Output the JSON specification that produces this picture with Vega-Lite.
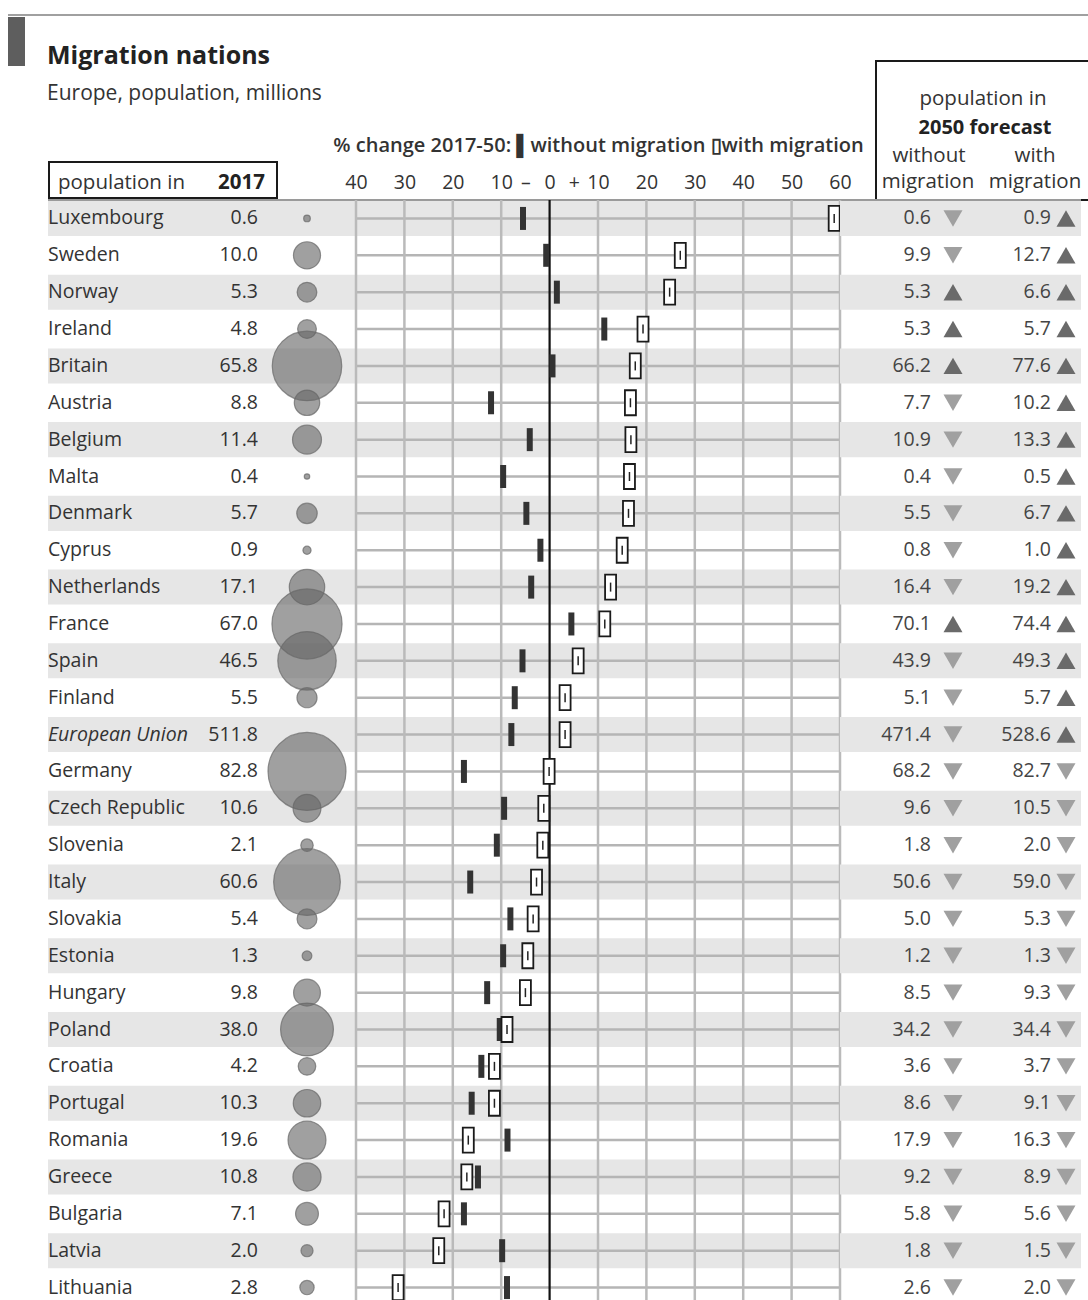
{
  "$schema": "https://vega.github.io/schema/vega-lite/v6.json",
  "padding": 0,
  "background": "white",
  "spacing": 0,
  "bounds": "flush",
  "config": {
    "view": {"stroke": null},
    "font": "Open Sans",
    "text": {"font": "Open Sans"},
    "axis": {"labelFont": "Open Sans", "titleFont": "Open Sans"}
  },
  "datasets": {
    "rows": [
      {"country": "Luxembourg", "p17": 0.6, "cwo": -5.5, "cw": 58.8, "wo": 0.6, "w": 0.9},
      {"country": "Sweden", "p17": 10.0, "cwo": -0.7, "cw": 27.0, "wo": 9.9, "w": 12.7},
      {"country": "Norway", "p17": 5.3, "cwo": 1.5, "cw": 24.8, "wo": 5.3, "w": 6.6},
      {"country": "Ireland", "p17": 4.8, "cwo": 11.3, "cw": 19.3, "wo": 5.3, "w": 5.7},
      {"country": "Britain", "p17": 65.8, "cwo": 0.6, "cw": 17.7, "wo": 66.2, "w": 77.6},
      {"country": "Austria", "p17": 8.8, "cwo": -12.1, "cw": 16.7, "wo": 7.7, "w": 10.2},
      {"country": "Belgium", "p17": 11.4, "cwo": -4.1, "cw": 16.8, "wo": 10.9, "w": 13.3},
      {"country": "Malta", "p17": 0.4, "cwo": -9.6, "cw": 16.5, "wo": 0.4, "w": 0.5},
      {"country": "Denmark", "p17": 5.7, "cwo": -4.8, "cw": 16.3, "wo": 5.5, "w": 6.7},
      {"country": "Cyprus", "p17": 0.9, "cwo": -1.9, "cw": 15.0, "wo": 0.8, "w": 1.0},
      {"country": "Netherlands", "p17": 17.1, "cwo": -3.8, "cw": 12.6, "wo": 16.4, "w": 19.2},
      {"country": "France", "p17": 67.0, "cwo": 4.5, "cw": 11.4, "wo": 70.1, "w": 74.4},
      {"country": "Spain", "p17": 46.5, "cwo": -5.6, "cw": 5.9, "wo": 43.9, "w": 49.3},
      {"country": "Finland", "p17": 5.5, "cwo": -7.2, "cw": 3.2, "wo": 5.1, "w": 5.7},
      {"country": "European Union", "p17": 511.8, "cwo": -7.9, "cw": 3.2, "wo": 471.4, "w": 528.6},
      {"country": "Germany", "p17": 82.8, "cwo": -17.7, "cw": -0.1, "wo": 68.2, "w": 82.7},
      {"country": "Czech Republic", "p17": 10.6, "cwo": -9.4, "cw": -1.2, "wo": 9.6, "w": 10.5},
      {"country": "Slovenia", "p17": 2.1, "cwo": -10.9, "cw": -1.4, "wo": 1.8, "w": 2.0},
      {"country": "Italy", "p17": 60.6, "cwo": -16.4, "cw": -2.7, "wo": 50.6, "w": 59.0},
      {"country": "Slovakia", "p17": 5.4, "cwo": -8.1, "cw": -3.4, "wo": 5.0, "w": 5.3},
      {"country": "Estonia", "p17": 1.3, "cwo": -9.6, "cw": -4.5, "wo": 1.2, "w": 1.3},
      {"country": "Hungary", "p17": 9.8, "cwo": -12.9, "cw": -5.0, "wo": 8.5, "w": 9.3},
      {"country": "Poland", "p17": 38.0, "cwo": -10.3, "cw": -8.8, "wo": 34.2, "w": 34.4},
      {"country": "Croatia", "p17": 4.2, "cwo": -14.1, "cw": -11.4, "wo": 3.6, "w": 3.7},
      {"country": "Portugal", "p17": 10.3, "cwo": -16.1, "cw": -11.4, "wo": 8.6, "w": 9.1},
      {"country": "Romania", "p17": 19.6, "cwo": -8.7, "cw": -16.8, "wo": 17.9, "w": 16.3},
      {"country": "Greece", "p17": 10.8, "cwo": -14.8, "cw": -17.1, "wo": 9.2, "w": 8.9},
      {"country": "Bulgaria", "p17": 7.1, "cwo": -17.7, "cw": -21.8, "wo": 5.8, "w": 5.6},
      {"country": "Latvia", "p17": 2.0, "cwo": -9.8, "cw": -22.9, "wo": 1.8, "w": 1.5},
      {"country": "Lithuania", "p17": 2.8, "cwo": -8.8, "cw": -31.3, "wo": 2.6, "w": 2.0}
    ]
  },
  "vconcat": [
    {
      "width": 1088,
      "height": 200,
      "data": {"values": [{}]},
      "layer": [
        {"mark": {"type": "rule", "color": "#a0a0a0", "strokeWidth": 2}, "encoding": {"x": {"value": 8}, "x2": {"value": 1088}, "y": {"value": 15}}},
        {"mark": {"type": "rect", "color": "#5e5e5e"}, "encoding": {"x": {"value": 8}, "x2": {"value": 25}, "y": {"value": 17}, "y2": {"value": 66}}},
        {"mark": {"type": "text", "text": "Migration nations", "align": "left", "baseline": "alphabetic", "fontSize": 25, "fontWeight": "bold", "color": "#222"}, "encoding": {"x": {"value": 47}, "y": {"value": 64}}},
        {"mark": {"type": "text", "text": "Europe, population, millions", "align": "left", "baseline": "alphabetic", "fontSize": 21, "color": "#333"}, "encoding": {"x": {"value": 47}, "y": {"value": 100}}},
        {"mark": {"type": "rect", "fillOpacity": 0, "stroke": "#1a1a1a", "strokeWidth": 2}, "encoding": {"x": {"value": 49}, "x2": {"value": 277}, "y": {"value": 162}, "y2": {"value": 198}}},
        {"mark": {"type": "text", "text": "population in", "align": "left", "baseline": "alphabetic", "fontSize": 20.5, "color": "#333"}, "encoding": {"x": {"value": 58}, "y": {"value": 189}}},
        {"mark": {"type": "text", "text": "2017", "align": "right", "baseline": "alphabetic", "fontSize": 20.5, "fontWeight": "bold", "color": "#222"}, "encoding": {"x": {"value": 265}, "y": {"value": 189}}},
        {"mark": {"type": "rect", "fillOpacity": 0, "stroke": "#1a1a1a", "strokeWidth": 2}, "encoding": {"x": {"value": 876}, "x2": {"value": 1094}, "y": {"value": 61}, "y2": {"value": 200}}},
        {"mark": {"type": "text", "text": "population in", "align": "center", "baseline": "alphabetic", "fontSize": 20.5, "color": "#333"}, "encoding": {"x": {"value": 983}, "y": {"value": 105}}},
        {"mark": {"type": "text", "text": "2050 forecast", "align": "center", "baseline": "alphabetic", "fontSize": 20, "fontWeight": "bold", "color": "#222"}, "encoding": {"x": {"value": 985}, "y": {"value": 134}}},
        {"mark": {"type": "text", "text": "without", "align": "center", "baseline": "alphabetic", "fontSize": 20.5, "color": "#333"}, "encoding": {"x": {"value": 929}, "y": {"value": 162}}},
        {"mark": {"type": "text", "text": "with", "align": "center", "baseline": "alphabetic", "fontSize": 20.5, "color": "#333"}, "encoding": {"x": {"value": 1035}, "y": {"value": 162}}},
        {"mark": {"type": "text", "text": "migration", "align": "center", "baseline": "alphabetic", "fontSize": 20.5, "color": "#333"}, "encoding": {"x": {"value": 928}, "y": {"value": 188}}},
        {"mark": {"type": "text", "text": "migration", "align": "center", "baseline": "alphabetic", "fontSize": 20.5, "color": "#333"}, "encoding": {"x": {"value": 1035}, "y": {"value": 188}}},
        {"mark": {"type": "rule", "color": "#9a9a9a", "strokeWidth": 2}, "encoding": {"x": {"value": 48}, "x2": {"value": 1081}, "y": {"value": 200}}}
      ]
    },
    {
      "spacing": 0,
      "bounds": "flush",
      "hconcat": [
        {"width": 48, "height": 1106, "data": {"values": []}, "mark": {"type": "point", "opacity": 0}},
        {
          "width": 152, "height": 1106,
          "data": {"name": "rows"},
          "transform": [{"window": [{"op": "row_number", "as": "rn"}]}],
          "layer": [
            {"mark": {"type": "rect", "color": "#e6e6e6"}, "encoding": {"y": {"field": "country", "type": "nominal", "sort": null, "axis": null, "scale": {"paddingInner": 0.05, "paddingOuter": 0.025}}, "opacity": {"condition": {"test": "datum.rn % 2 == 1", "value": 1}, "value": 0}}},
            {"mark": {"type": "text", "align": "left", "fontSize": 19.5, "color": "#333"}, "encoding": {"y": {"field": "country", "type": "nominal", "sort": null}, "x": {"value": 0}, "text": {"condition": {"test": "datum.country == 'European Union'", "value": ""}, "field": "country"}}},
            {"mark": {"type": "text", "align": "left", "fontSize": 19.5, "fontStyle": "italic", "color": "#333"}, "encoding": {"y": {"field": "country", "type": "nominal", "sort": null}, "x": {"value": 0}, "text": {"condition": {"test": "datum.country != 'European Union'", "value": ""}, "field": "country"}}}
          ]
        },
        {
          "width": 58, "height": 1106,
          "data": {"name": "rows"},
          "transform": [{"window": [{"op": "row_number", "as": "rn"}]}],
          "layer": [
            {"mark": {"type": "rect", "color": "#e6e6e6"}, "encoding": {"y": {"field": "country", "type": "nominal", "sort": null, "axis": null, "scale": {"paddingInner": 0.05, "paddingOuter": 0.025}}, "opacity": {"condition": {"test": "datum.rn % 2 == 1", "value": 1}, "value": 0}}},
            {"mark": {"type": "text", "align": "right", "fontSize": 19.5, "color": "#333"}, "encoding": {"y": {"field": "country", "type": "nominal", "sort": null}, "x": {"value": "width"}, "text": {"field": "p17", "type": "quantitative", "format": ".1f"}}}
          ]
        },
        {
          "width": 98, "height": 1106,
          "data": {"name": "rows"},
          "transform": [{"window": [{"op": "row_number", "as": "rn"}]}],
          "layer": [
            {"mark": {"type": "rect", "color": "#e6e6e6"}, "encoding": {"y": {"field": "country", "type": "nominal", "sort": null, "axis": null, "scale": {"paddingInner": 0.05, "paddingOuter": 0.025}}, "opacity": {"condition": {"test": "datum.rn % 2 == 1", "value": 1}, "value": 0}}},
            {"mark": {"type": "circle", "color": "#666666", "fillOpacity": 0.62, "stroke": "#666666", "strokeOpacity": 0.7, "strokeWidth": 1.2}, "encoding": {"y": {"field": "country", "type": "nominal", "sort": null}, "size": {"field": "p17", "type": "quantitative", "scale": {"domain": [0, 82.8], "range": [0, 6080]}, "legend": null}, "opacity": {"condition": {"test": "datum.country == 'European Union'", "value": 0}, "value": 1}}}
          ]
        },
        {
          "width": 484, "height": 1106,
          "data": {"name": "rows"},
          "transform": [{"window": [{"op": "row_number", "as": "rn"}]}],
          "layer": [
            {"mark": {"type": "rect", "color": "#e6e6e6"}, "encoding": {"y": {"field": "country", "type": "nominal", "sort": null, "axis": null, "scale": {"paddingInner": 0.05, "paddingOuter": 0.025}}, "opacity": {"condition": {"test": "datum.rn % 2 == 1", "value": 1}, "value": 0}}},
            {"mark": {"type": "rule", "color": "#b5b5b5", "strokeWidth": 2.5},
             "encoding": {
               "y": {"field": "country", "type": "nominal", "sort": null},
               "x": {"datum": -40, "type": "quantitative", "scale": {"domain": [-40, 60], "nice": false, "zero": false},
                 "axis": {"orient": "top", "values": [-40, -30, -20, -10, -5, 0, 5, 10, 20, 30, 40, 50, 60],
                   "labelExpr": "datum.value == -5 ? '–' : datum.value == 5 ? '+' : format(abs(datum.value), 'd')",
                   "grid": false, "ticks": false, "domain": false, "labelOverlap": false, "labelFlush": false, "labelBound": false,
                   "labelFontSize": 19.5, "labelColor": "#333", "labelPadding": 8,
                   "title": "% change 2017-50: ▌without migration ▯with migration", "titleFontSize": 20, "titleFontWeight": 600, "titleColor": "#333", "titlePadding": 17}},
               "x2": {"datum": 60}}},
            {"data": {"values": [{"v": -40}, {"v": -30}, {"v": -20}, {"v": -10}, {"v": 0}, {"v": 10}, {"v": 20}, {"v": 30}, {"v": 40}, {"v": 50}, {"v": 60}]},
             "mark": {"type": "rule"},
             "encoding": {"x": {"field": "v", "type": "quantitative"},
               "color": {"condition": {"test": "datum.v == 0", "value": "#111"}, "value": "#bababa"},
               "strokeWidth": {"condition": {"test": "datum.v == 0", "value": 2.2}, "value": 2.5}}},
            {"mark": {"type": "tick", "color": "#333", "thickness": 6, "size": 23, "opacity": 1}, "encoding": {"y": {"field": "country", "type": "nominal", "sort": null}, "x": {"field": "cwo", "type": "quantitative"}}},
            {"mark": {"type": "tick", "color": "white", "stroke": "#1a1a1a", "strokeWidth": 1.8, "thickness": 11, "size": 25, "opacity": 1}, "encoding": {"y": {"field": "country", "type": "nominal", "sort": null}, "x": {"field": "cw", "type": "quantitative"}}},
            {"mark": {"type": "tick", "color": "#222", "thickness": 1.5, "size": 9, "opacity": 1}, "encoding": {"y": {"field": "country", "type": "nominal", "sort": null}, "x": {"field": "cw", "type": "quantitative"}}}
          ]
        },
        {
          "width": 91, "height": 1106,
          "data": {"name": "rows"},
          "transform": [{"window": [{"op": "row_number", "as": "rn"}]}],
          "layer": [
            {"mark": {"type": "rect", "color": "#e6e6e6"}, "encoding": {"y": {"field": "country", "type": "nominal", "sort": null, "axis": null, "scale": {"paddingInner": 0.05, "paddingOuter": 0.025}}, "opacity": {"condition": {"test": "datum.rn % 2 == 1", "value": 1}, "value": 0}}},
            {"mark": {"type": "text", "align": "right", "fontSize": 19.5, "color": "#444"}, "encoding": {"y": {"field": "country", "type": "nominal", "sort": null}, "x": {"value": "width"}, "text": {"field": "wo", "type": "quantitative", "format": ".1f"}}}
          ]
        },
        {
          "width": 44, "height": 1106,
          "data": {"name": "rows"},
          "transform": [{"window": [{"op": "row_number", "as": "rn"}]}],
          "layer": [
            {"mark": {"type": "rect", "color": "#e6e6e6"}, "encoding": {"y": {"field": "country", "type": "nominal", "sort": null, "axis": null, "scale": {"paddingInner": 0.05, "paddingOuter": 0.025}}, "opacity": {"condition": {"test": "datum.rn % 2 == 1", "value": 1}, "value": 0}}},
            {"mark": {"type": "point", "filled": true, "size": 360, "opacity": 1}, "encoding": {"y": {"field": "country", "type": "nominal", "sort": null},
              "shape": {"condition": {"test": "datum.cwo > 0", "value": "triangle-up"}, "value": "triangle-down"},
              "color": {"condition": {"test": "datum.cwo > 0", "value": "#6a6a6a"}, "value": "#a0a0a0"}}}
          ]
        },
        {
          "width": 76, "height": 1106,
          "data": {"name": "rows"},
          "transform": [{"window": [{"op": "row_number", "as": "rn"}]}],
          "layer": [
            {"mark": {"type": "rect", "color": "#e6e6e6"}, "encoding": {"y": {"field": "country", "type": "nominal", "sort": null, "axis": null, "scale": {"paddingInner": 0.05, "paddingOuter": 0.025}}, "opacity": {"condition": {"test": "datum.rn % 2 == 1", "value": 1}, "value": 0}}},
            {"mark": {"type": "text", "align": "right", "fontSize": 19.5, "color": "#444"}, "encoding": {"y": {"field": "country", "type": "nominal", "sort": null}, "x": {"value": "width"}, "text": {"field": "w", "type": "quantitative", "format": ".1f"}}}
          ]
        },
        {
          "width": 30, "height": 1106,
          "data": {"name": "rows"},
          "transform": [{"window": [{"op": "row_number", "as": "rn"}]}],
          "layer": [
            {"mark": {"type": "rect", "color": "#e6e6e6"}, "encoding": {"y": {"field": "country", "type": "nominal", "sort": null, "axis": null, "scale": {"paddingInner": 0.05, "paddingOuter": 0.025}}, "opacity": {"condition": {"test": "datum.rn % 2 == 1", "value": 1}, "value": 0}}},
            {"mark": {"type": "point", "filled": true, "size": 360, "opacity": 1}, "encoding": {"y": {"field": "country", "type": "nominal", "sort": null},
              "shape": {"condition": {"test": "datum.cw > 0", "value": "triangle-up"}, "value": "triangle-down"},
              "color": {"condition": {"test": "datum.cw > 0", "value": "#6a6a6a"}, "value": "#a0a0a0"}}}
          ]
        }
      ]
    }
  ]
}
